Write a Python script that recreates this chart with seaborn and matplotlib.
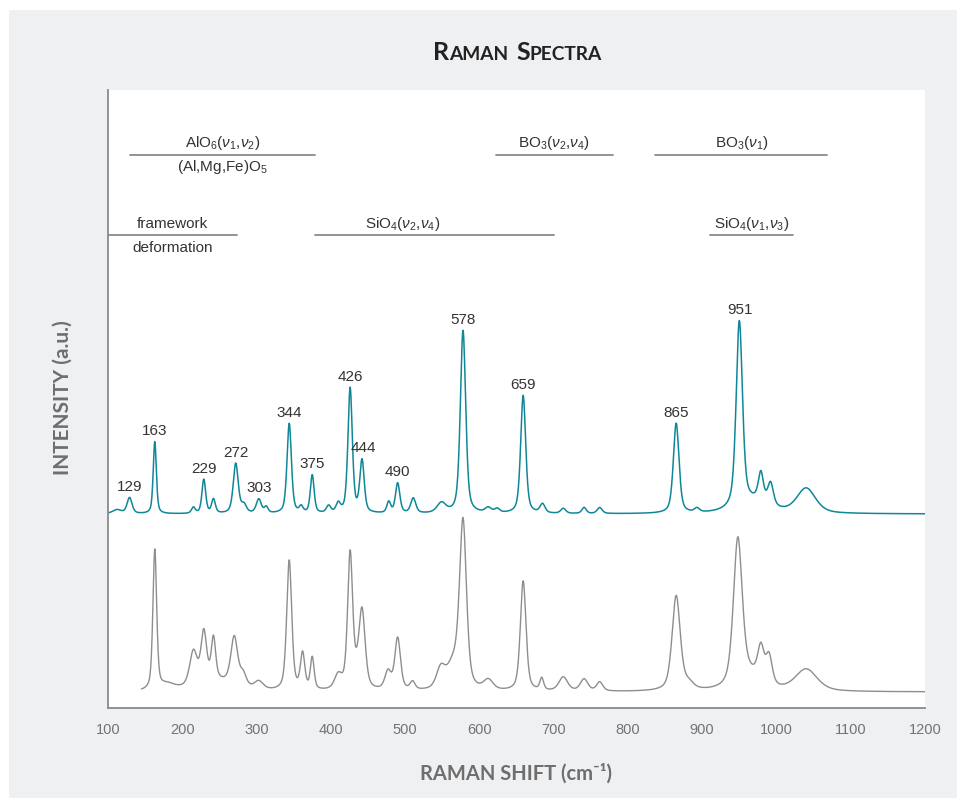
import numpy as np
import pandas as pd
import seaborn as sns
import matplotlib.pyplot as plt
from matplotlib.patches import Rectangle
from matplotlib.offsetbox import TextArea, HPacker, AnchoredOffsetbox

# peak tables (position cm-1, height a.u., fwhm cm-1)
teal_pos = [112, 129, 163, 215, 229, 242, 272, 283, 303, 313, 344, 360, 375, 397, 410,
            426, 442, 478, 490, 511, 549, 578, 612, 624, 659, 685, 713, 741, 762,
            865, 893, 950, 970, 979, 992, 1040]
teal_height = [4, 16, 72, 6, 34, 14, 50, 8, 14, 6, 90, 6, 38, 7, 9,
               125, 52, 11, 30, 15, 10, 183, 5, 4, 118, 9, 5, 6, 6,
               90, 4, 185, 12, 28, 22, 25]
teal_fwhm = [14, 8, 5, 6, 6, 6, 8, 8, 8, 6, 7, 6, 6, 7, 7,
             7, 7, 6, 7, 8, 14, 8.5, 10, 8, 8, 8, 8, 7, 8,
             9, 8, 10, 50, 8, 9, 30]
teal_base = 194

gray_pos = [163, 180, 215, 229, 242, 245, 270, 282, 303, 344, 362, 375, 410, 426, 434, 442,
            477, 490, 510, 548, 565, 578, 612, 659, 684, 713, 741, 762,
            865, 882, 948, 965, 979, 990, 1040]
gray_height = [140, 6, 34, 50, 42, 10, 48, 12, 8, 130, 36, 32, 14, 135, 8, 78,
               18, 52, 8, 20, 24, 165, 10, 110, 12, 14, 12, 9,
               95, 6, 145, 15, 32, 28, 22]
gray_fwhm = [6, 25, 12, 9, 7, 60, 11, 10, 14, 8, 7, 6, 12, 8, 10, 10,
             10, 9, 8, 14, 20, 11, 15, 9, 6, 14, 12, 10,
             13, 15, 14, 40, 10, 10, 35]
gray_base = 16
gray_start = 145

peak_labels = [129, 163, 229, 272, 303, 344, 375, 426, 444, 490, 578, 659, 865, 951]

# assignment bands: (upper text, lower text, x from, x to, text x)
bands_top = [
    (r"AlO$_6$($\nu_1$,$\nu_2$)", "(Al,Mg,Fe)O$_5$", 129.6, 378.7, 254),
    (r"BO$_3$($\nu_2$,$\nu_4$)", "", 622, 780, 701),
    (r"BO$_3$($\nu_1$)", "", 836, 1068, 953),
]
bands_bottom = [
    ("framework", "deformation", 100, 274, 187),
    (r"SiO$_4$($\nu_2$,$\nu_4$)", "", 378.7, 700.5, 497),
    (r"SiO$_4$($\nu_1$,$\nu_3$)", "", 910.6, 1022, 966),
]


def spectrum(x, base, pos, height, fwhm, eta=0.5):
    y = np.full_like(x, float(base))
    for p, h, w in zip(pos, height, fwhm):
        d = (x - p) / w
        y += h * (eta / (1 + 4 * d ** 2) + (1 - eta) * np.exp(-4 * np.log(2) * d ** 2))
    return y


shift = np.linspace(100, 1200, 2201)
teal = spectrum(shift, teal_base, teal_pos, teal_height, teal_fwhm)
gray = spectrum(shift, gray_base, gray_pos, gray_height, gray_fwhm)
df_teal = pd.DataFrame({"shift": shift, "intensity": teal})
df_gray = pd.DataFrame({"shift": shift, "intensity": gray})
df_gray = df_gray[df_gray["shift"] >= gray_start]

sns.set_theme(style="white")
plt.rcParams["font.family"] = ["Liberation Sans", "DejaVu Sans"]
plt.rcParams["mathtext.fontset"] = "custom"
plt.rcParams["mathtext.rm"] = "Liberation Sans"
plt.rcParams["mathtext.it"] = "Liberation Sans:italic"

TEAL = "#0f8798"
GRAY = "#8e8e8e"
AXC = "#8a8a8a"
TXT = "#333333"

fig = plt.figure(figsize=(9.57, 7.98), dpi=100, facecolor="white")
fig.patches.append(Rectangle((9 / 957, 0), 1, 1 - 10 / 798, transform=fig.transFigure,
                             facecolor="#eff0f2", edgecolor="none", zorder=-10))
ax = fig.add_axes([108 / 957, 90 / 798, 817 / 957, 618 / 798])
ax.set_zorder(1)
ax.set_facecolor("white")

sns.lineplot(data=df_gray, x="shift", y="intensity", ax=ax, color=GRAY, lw=1.0,
             estimator=None, sort=False)
sns.lineplot(data=df_teal, x="shift", y="intensity", ax=ax, color=TEAL, lw=1.1,
             estimator=None, sort=False)

ax.set_xlim(100, 1200)
ax.set_ylim(0, 618)
ax.set_xticks(np.arange(100, 1201, 100))
ax.set_yticks([])
ax.tick_params(axis="x", direction="out", length=6, width=1, color=AXC,
               labelcolor="#737373", labelsize=10.5, pad=5)
for s in ["top", "right"]:
    ax.spines[s].set_visible(False)
for s in ["left", "bottom"]:
    ax.spines[s].set_color(AXC)
    ax.spines[s].set_linewidth(1.3)

# peak labels above the teal spectrum
for v in peak_labels:
    win = (shift > v - 4) & (shift < v + 4)
    top = teal[win].max()
    ax.annotate(str(v), (v, top), xytext=(0, 7.5), textcoords="offset points",
                ha="center", va="center", fontsize=11, color=TXT)

# band assignments
for rows, yline in [(bands_top, 553.5), (bands_bottom, 473.3)]:
    for upper, lower, x0, x1, xt in rows:
        ax.plot([x0, x1], [yline, yline], color=AXC, lw=1.3, clip_on=False)
        ax.text(xt, yline + 11, upper, ha="center", va="center", fontsize=11, color=TXT)
        if lower:
            ax.text(xt, yline - 13, lower, ha="center", va="center", fontsize=11, color=TXT)

lab = dict(family=["Lato", "DejaVu Sans"], weight="bold", color="#6e6e6e")
ax.set_xlabel("RAMAN SHIFT (cm⁻¹)", va="center", fontsize=14.5, **lab)
ax.xaxis.set_label_coords((516 - 108) / 817, -(774 - 708) / 618)
ax.set_ylabel("INTENSITY (a.u.)", va="center", fontsize=15, **lab)
ax.yaxis.set_label_coords(-(108 - 63) / 817, (708 - 398) / 618)

# small-caps title
big = dict(size=18, weight="bold", family=["Lato", "DejaVu Sans"], color="#222222")
small = dict(size=13.8, weight="bold", family=["Lato", "DejaVu Sans"], color="#222222")
w1 = HPacker(children=[TextArea("R", textprops=big), TextArea("AMAN", textprops=small)],
             align="baseline", pad=0, sep=0)
w2 = HPacker(children=[TextArea("S", textprops=big), TextArea("PECTRA", textprops=small)],
             align="baseline", pad=0, sep=0)
title = HPacker(children=[w1, w2], align="baseline", pad=0, sep=6)
box = AnchoredOffsetbox(loc="center", child=title, frameon=False, pad=0, borderpad=0,
                        bbox_to_anchor=(517.5 / 957, 1 - 53 / 798),
                        bbox_transform=fig.transFigure)
fig.add_artist(box)

fig.savefig("out.png", dpi=100, facecolor="white")
